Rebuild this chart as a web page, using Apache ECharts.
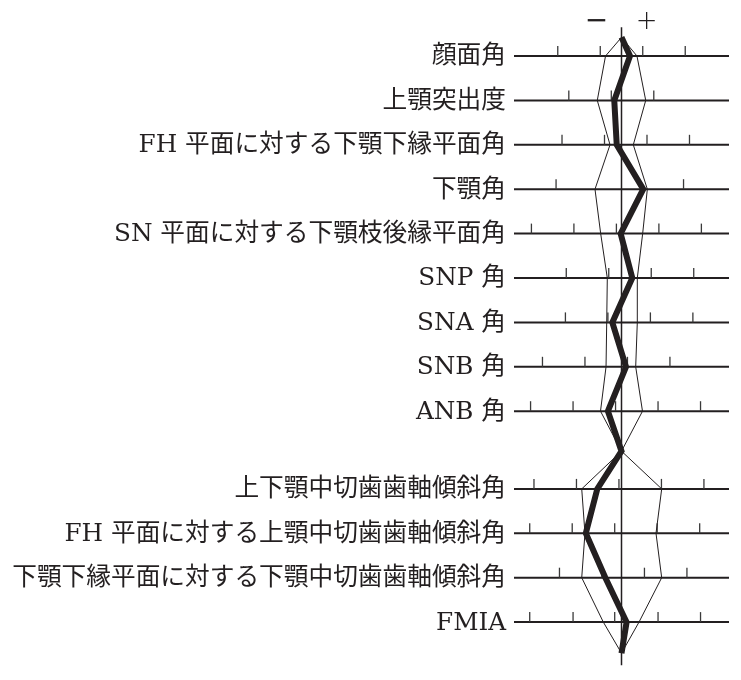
<!DOCTYPE html>
<html>
<head>
<meta charset="utf-8">
<script src="https://cdn.jsdelivr.net/npm/echarts@6/dist/echarts.min.js"></script>
<style>
html,body{margin:0;padding:0;background:#ffffff;}
#chart{width:741px;height:680px;}
</style>
</head>
<body>
<div id="chart"></div>
<script>
// ---- data (deviation from the norm, in degrees; one tick step = 5) ----
const labels = [
  '顔面角',
  '上顎突出度',
  'FH 平面に対する下顎下縁平面角',
  '下顎角',
  'SN 平面に対する下顎枝後縁平面角',
  'SNP 角',
  'SNA 角',
  'SNB 角',
  'ANB 角',
  '上下顎中切歯歯軸傾斜角',
  'FH 平面に対する上顎中切歯歯軸傾斜角',
  '下顎下縁平面に対する下顎中切歯歯軸傾斜角',
  'FMIA'
];
const groupSizes = [9, 4];
const patient  = [1.0, -0.85, -0.56, 2.56, -0.1, 1.27, -1.08, 0.53, -1.6, -2.85, -4.2, -1.9, 0.6];
const normLow  = [-1.88, -2.85, -1.35, -3.12, -2.45, -1.67, -1.74, -1.82, -2.47, -4.68, -4.3, -4.68, -2.14];
const normHigh = [1.82, 2.85, 1.39, 3.04, 2.49, 1.86, 1.86, 1.67, 2.47, 4.73, 4.06, 4.73, 2.06];
const tickValues = [
  [-7.5, -2.5, 2.5, 7.5],
  [-6.2, -1.2, 3.8],
  [-7.0, -2.0, 3.0, 8.0],
  [-7.7, 7.3],
  [-10.6, -5.6, -0.6, 4.4, 9.4],
  [-6.5, -1.5, 3.5, 8.5],
  [-6.6, -1.6, 3.4, 8.4],
  [-9.3, -4.3, 0.7, 5.7],
  [-10.7, -5.7, -0.7, 4.3, 9.3],
  [-10.3, -5.3, -0.3, 4.7, 9.7],
  [-10.8, -5.8, -0.8, 4.2, 9.2],
  [-7.3, -2.3, 2.7, 7.7],
  [-10.8, -5.7, -0.8, 4.3, 9.3]
];
const signs = ['−', '+'];

// ---- layout ----
const GAP = 0.75;
const TOP_END = -0.42, MID_END = 8.9, BOTTOM_END = 13.45;
const AXIS_TOP = -0.65, AXIS_BOTTOM = 13.72;
const SIGN_Y = -0.77, SIGN_X = 2.95;
const X_MIN = -12.65, X_MAX = 12.65;
const INK = '#231f20';
const FONT = '"DejaVu Serif", "Noto Sans CJK JP", serif';

const rowY = labels.map((_, i) => (i < groupSizes[0] ? i : i + GAP));

function profile(vals) {
  const pts = [[0, TOP_END]];
  vals.forEach((v, i) => {
    pts.push([v, rowY[i]]);
    if (i === groupSizes[0] - 1) pts.push([0, MID_END]);
  });
  pts.push([0, BOTTOM_END]);
  return pts;
}

const chart = echarts.init(document.getElementById('chart'));
chart.setOption({
  animation: false,
  backgroundColor: '#ffffff',
  grid: { left: 514, right: 12, top: 11.6, bottom: 2.4 },
  xAxis: { type: 'value', min: X_MIN, max: X_MAX, show: false },
  yAxis: { type: 'value', min: -1, max: 14, inverse: true, show: false },
  series: [
    {
      type: 'custom',
      silent: true,
      z: 1,
      data: labels.map((l, i) => [0, rowY[i], i]),
      renderItem: function (params, api) {
        const y = api.value(1);
        const idx = api.value(2);
        const p0 = api.coord([X_MIN, y]);
        const p1 = api.coord([X_MAX, y]);
        const children = [{
          type: 'line',
          shape: { x1: p0[0], y1: p0[1], x2: p1[0], y2: p1[1] },
          style: { stroke: INK, lineWidth: 2 }
        }];
        tickValues[idx].forEach(t => {
          const pt = api.coord([t, y]);
          children.push({
            type: 'line',
            shape: { x1: pt[0], y1: pt[1], x2: pt[0], y2: pt[1] - 10 },
            style: { stroke: '#3a3a3a', lineWidth: 1.3 }
          });
        });
        children.push({
          type: 'text',
          style: {
            text: labels[idx],
            x: p0[0] - 8,
            y: p0[1] + 1,
            align: 'right',
            verticalAlign: 'middle',
            fontSize: 24.7,
            fontFamily: FONT,
            fill: INK
          }
        });
        return { type: 'group', children: children };
      }
    },
    {
      type: 'custom',
      silent: true,
      z: 1,
      data: [[0, SIGN_Y]],
      renderItem: function (params, api) {
        const l = api.coord([-SIGN_X, SIGN_Y]);
        const r = api.coord([SIGN_X, SIGN_Y]);
        return {
          type: 'group',
          children: [
            { type: 'text', style: { text: signs[0], x: l[0], y: l[1], align: 'center', verticalAlign: 'middle', fontSize: 28, fontFamily: '"DejaVu Sans", sans-serif', fill: INK } },
            { type: 'text', style: { text: signs[1], x: r[0], y: r[1], align: 'center', verticalAlign: 'middle', fontSize: 26, fontWeight: 300, fontFamily: '"DejaVu Sans", sans-serif', fill: INK } }
          ]
        };
      }
    },
    {
      type: 'line',
      silent: true,
      z: 2,
      symbol: 'none',
      data: [[0, AXIS_TOP], [0, AXIS_BOTTOM]],
      lineStyle: { color: INK, width: 1.5 }
    },
    {
      name: 'norm-',
      type: 'line',
      silent: true,
      z: 3,
      symbol: 'none',
      data: profile(normLow),
      lineStyle: { color: INK, width: 1 }
    },
    {
      name: 'norm+',
      type: 'line',
      silent: true,
      z: 3,
      symbol: 'none',
      data: profile(normHigh),
      lineStyle: { color: INK, width: 1 }
    },
    {
      name: 'patient',
      type: 'line',
      silent: true,
      z: 4,
      symbol: 'none',
      data: profile(patient),
      lineStyle: { color: INK, width: 6, join: 'miter', miterLimit: 4 }
    }
  ]
});
</script>
</body>
</html>
